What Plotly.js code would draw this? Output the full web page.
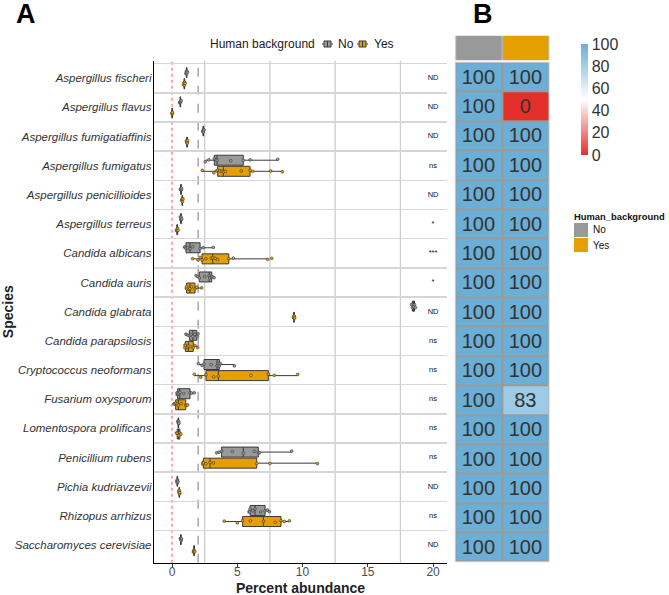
<!DOCTYPE html>
<html>
<head>
<meta charset="utf-8">
<script src="https://cdn.plot.ly/plotly-3.0.1.min.js"></script>
<style>
  html, body { margin: 0; padding: 0; background: #ffffff; }
  #chart { width: 669px; height: 595px; }
</style>
</head>
<body>
<div id="chart"></div>
<script>
// Species shown on both panels, top to bottom
const species = [
  'Aspergillus fischeri', 'Aspergillus flavus', 'Aspergillus fumigatiaffinis',
  'Aspergillus fumigatus', 'Aspergillus penicillioides', 'Aspergillus terreus',
  'Candida albicans', 'Candida auris', 'Candida glabrata', 'Candida parapsilosis',
  'Cryptococcus neoformans', 'Fusarium oxysporum', 'Lomentospora prolificans',
  'Penicillium rubens', 'Pichia kudriavzevii', 'Rhizopus arrhizus',
  'Saccharomyces cerevisiae'
];

const groups = ['No', 'Yes'];

// Percent abundance per sample, human background = No
const abundanceNo = [
  [1.06, 1.10, 1.12, 1.14, 1.18],
  [0.58, 0.62, 0.64, 0.66, 0.70],
  [2.36, 2.38, 2.40, 2.42, 2.45],
  [2.55, 2.82, 3.24, 3.38, 3.45, 4.50, 5.46, 5.98, 8.10],
  [0.64, 0.67, 0.69, 0.71, 0.73],
  [0.64, 0.67, 0.69, 0.71, 0.74],
  [0.97, 1.00, 1.07, 1.20, 1.38, 1.60, 2.15, 2.40, 3.17],
  [1.84, 1.98, 2.09, 2.50, 2.85, 2.90, 3.04, 3.10, 3.22],
  [18.35, 18.42, 18.50, 18.58, 18.65],
  [1.07, 1.20, 1.33, 1.45, 1.60, 1.75, 1.89, 1.95, 2.00],
  [2.02, 2.30, 2.45, 3.00, 3.45, 3.55, 3.63, 3.70, 4.78],
  [0.38, 0.40, 0.43, 0.50, 0.60, 0.90, 1.38, 1.50, 1.71],
  [0.45, 0.47, 0.49, 0.51, 0.53],
  [3.42, 3.60, 3.80, 4.62, 5.46, 6.30, 6.61, 6.70, 9.17],
  [0.37, 0.39, 0.41, 0.43, 0.45],
  [5.90, 5.95, 5.98, 6.20, 6.36, 6.80, 7.13, 7.30, 7.46],
  [0.64, 0.66, 0.68, 0.70, 0.72]
];

// Percent abundance per sample, human background = Yes
const abundanceYes = [
  [0.88, 0.92, 0.95, 0.97, 1.00],
  [0.00, 0.01, 0.02, 0.03],
  [1.10, 1.13, 1.15, 1.17, 1.20],
  [2.32, 3.20, 3.40, 3.50, 3.65, 3.80, 3.93, 4.10, 5.30, 5.98, 6.18, 7.56, 8.45],
  [0.74, 0.77, 0.79, 0.81, 0.84],
  [0.34, 0.37, 0.40, 0.43, 0.46],
  [1.58, 2.00, 2.15, 2.30, 2.60, 3.00, 3.12, 3.30, 3.50, 4.35, 4.70, 7.33, 7.64],
  [1.10, 1.12, 1.12, 1.30, 1.38, 1.50, 1.76, 1.90, 2.27],
  [9.30, 9.33, 9.35, 9.37, 9.40],
  [0.98, 1.00, 1.02, 1.15, 1.25, 1.40, 1.63, 1.75, 1.97],
  [1.71, 2.20, 2.60, 3.20, 3.55, 6.05, 7.38, 7.84, 9.63],
  [0.15, 0.20, 0.28, 0.40, 0.49, 0.70, 1.05, 1.10, 1.20],
  [0.34, 0.40, 0.50, 0.60, 0.67],
  [2.35, 2.38, 2.40, 2.60, 2.91, 3.17, 6.49, 7.50, 11.14],
  [0.52, 0.54, 0.56, 0.58, 0.60],
  [4.00, 5.00, 5.41, 6.00, 7.00, 7.90, 8.35, 8.60, 8.99],
  [1.64, 1.67, 1.69, 1.71, 1.74]
];

// Test result per species
const significance = ['ND', 'ND', 'ND', 'ns', 'ND', '*', '***', '*', 'ND',
  'ns', 'ns', 'ns', 'ns', 'ns', 'ND', 'ns', 'ND'];
const significanceX = 20;

// Detection rate (%) per species and group
const detectedNo = [100, 100, 100, 100, 100, 100, 100, 100, 100, 100, 100, 100, 100, 100, 100, 100, 100];
const detectedYes = [100, 0, 100, 100, 100, 100, 100, 100, 100, 100, 100, 83, 100, 100, 100, 100, 100];

// Reference lines on the abundance axis
const refLineRed = 0;
const refLineGrey = 2;

// Vertical grid positions of the abundance axis
const gridX = [2.5, 7.5, 12.5, 17.5];

const colNo = '#999999';
const colYes = '#E69F00';
const FONT = 'Liberation Sans, Arial, sans-serif';

function flatten(samples) {
  const x = [], y = [];
  samples.forEach((vals, i) => vals.forEach(v => { x.push(v); y.push(species[i]); }));
  return { x, y };
}

function boxTrace(name, samples, color) {
  const d = flatten(samples);
  return {
    type: 'box', orientation: 'h', name: name, showlegend: false,
    x: d.x, y: d.y,
    xaxis: 'x', yaxis: 'y',
    fillcolor: color,
    line: { color: '#3a3a3a', width: 1 },
    whiskerwidth: 0,
    quartilemethod: 'inclusive',
    boxpoints: 'all', jitter: 0.35, pointpos: 0,
    marker: { size: 2.8, color: color, line: { color: '#3a3a3a', width: 0.6 } },
    hoverinfo: 'x+name'
  };
}

const traces = [
  boxTrace('No', abundanceNo, colNo),
  boxTrace('Yes', abundanceYes, colYes),
  {
    type: 'scatter', mode: 'text', showlegend: false,
    x: species.map(() => significanceX), y: species,
    text: significance,
    textfont: { family: FONT, size: 7.5, color: '#111111' },
    xaxis: 'x', yaxis: 'y', hoverinfo: 'skip'
  },
  {
    type: 'heatmap', showlegend: false,
    x: groups, y: species,
    z: species.map((s, i) => [detectedNo[i], detectedYes[i]]),
    zmin: 0, zmax: 100,
    colorscale: [[0, '#E3302B'], [0.5, '#FFFFFF'], [1, '#6BAED6']],
    xgap: 2, ygap: 2,
    texttemplate: '%{z}',
    textfont: { family: FONT, size: 20, color: '#333333' },
    xaxis: 'x2', yaxis: 'y2', hoverinfo: 'skip',
    colorbar: {
      x: 0.8685, xanchor: 'left', xpad: 0, ypad: 0,
      y: 0.8328, yanchor: 'middle',
      thickness: 7, thicknessmode: 'pixels',
      len: 111, lenmode: 'pixels',
      outlinewidth: 0, ticks: '',
      tickvals: [0, 20, 40, 60, 80, 100],
      tickfont: { family: FONT, size: 16, color: '#333333' }
    }
  },
  {
    type: 'heatmap', showlegend: false, showscale: false,
    x: groups, y: ['Human_background'],
    z: [[0, 1]], zmin: 0, zmax: 1,
    colorscale: [[0, colNo], [1, colYes]],
    xgap: 2, ygap: 0,
    xaxis: 'x3', yaxis: 'y3', hoverinfo: 'skip'
  }
];

// Small box-shaped key for the top legend (paper pixels)
function keyShapes(x0, color) {
  const W = 669, H = 595, y0 = 41, y1 = 47, ym = 44;
  return [
    { type: 'line', xref: 'paper', yref: 'paper', x0: (x0 - 2) / W, x1: (x0 + 9) / W,
      y0: 1 - ym / H, y1: 1 - ym / H, line: { color: '#3a3a3a', width: 1 } },
    { type: 'rect', xref: 'paper', yref: 'paper', x0: x0 / W, x1: (x0 + 7) / W,
      y0: 1 - y1 / H, y1: 1 - y0 / H, fillcolor: color, line: { color: '#3a3a3a', width: 1 } },
    { type: 'line', xref: 'paper', yref: 'paper', x0: (x0 + 3.5) / W, x1: (x0 + 3.5) / W,
      y0: 1 - y1 / H, y1: 1 - y0 / H, line: { color: '#3a3a3a', width: 1 } }
  ];
}

// Vertical grid lines between the labelled ticks
const gridShapes = gridX.map(v => ({
  type: 'line', xref: 'x', yref: 'y domain', x0: v, x1: v, y0: 0, y1: 1,
  line: { color: '#cdcdcd', width: 1.3 }, layer: 'below'
}));

const layout = {
  width: 669, height: 595,
  margin: { l: 0, r: 0, t: 0, b: 0 },
  paper_bgcolor: '#ffffff', plot_bgcolor: '#ffffff',
  font: { family: FONT, color: '#333333' },
  boxmode: 'group', boxgap: 0.24, boxgroupgap: 0.1,
  showlegend: false,
  xaxis: {
    domain: [0.2302, 0.6682], range: [-1.38, 21.07],
    showgrid: false, zeroline: false,
    showline: true, linecolor: '#000000', linewidth: 1.2,
    ticks: 'outside', ticklen: 3, tickcolor: '#333333',
    tickmode: 'linear', tick0: 0, dtick: 5,
    tickfont: { size: 12, color: '#4d4d4d' },
    ticklabelstandoff: -5,
    fixedrange: true
  },
  yaxis: {
    domain: [0.0543, 0.898],
    type: 'category', categoryorder: 'array', categoryarray: species,
    range: [16.6, -0.6],
    tickson: 'boundaries', ticks: '',
    showgrid: true, gridcolor: '#d6d6d6', gridwidth: 1.5,
    showline: true, linecolor: '#000000', linewidth: 1.2,
    zeroline: false,
    tickfont: { size: 11.5, color: '#333333', style: 'italic' },
    ticklabelstandoff: -1,
    title: { text: 'Species', font: { size: 14, color: '#222222', weight: 'bold' }, standoff: 4 },
    fixedrange: true
  },
  xaxis2: {
    domain: [0.6806, 0.8206], anchor: 'y2',
    showticklabels: false, showgrid: false, zeroline: false, showline: false, ticks: ''
  },
  yaxis2: {
    domain: [0.056, 0.8953], anchor: 'x2',
    type: 'category', categoryorder: 'array', categoryarray: species,
    autorange: 'reversed',
    showticklabels: false, showgrid: false, zeroline: false, showline: false, ticks: ''
  },
  xaxis3: {
    domain: [0.6806, 0.8206], anchor: 'y3',
    showticklabels: false, showgrid: false, zeroline: false, showline: false, ticks: ''
  },
  yaxis3: {
    domain: [0.8992, 0.9395], anchor: 'x3',
    showticklabels: false, showgrid: false, zeroline: false, showline: false, ticks: ''
  },
  shapes: gridShapes.concat([
    { type: 'line', xref: 'x', yref: 'y domain', x0: refLineRed, x1: refLineRed, y0: 0, y1: 1,
      line: { color: '#ff7070', width: 1.2, dash: 'dot' }, layer: 'below' },
    { type: 'line', xref: 'x', yref: 'y domain', x0: refLineGrey, x1: refLineGrey, y0: 0, y1: 1,
      line: { color: '#7a7a7a', width: 1, dash: 'dash' }, layer: 'below' },
    { type: 'rect', xref: 'x2 domain', yref: 'y2 domain', x0: 0, x1: 1, y0: 0, y1: 1,
      fillcolor: '#9a9a9a', line: { width: 1, color: '#c8c8c8' }, layer: 'below' },
    { type: 'rect', xref: 'x3 domain', yref: 'y3 domain', x0: 0, x1: 1, y0: 0, y1: 1,
      fillcolor: '#b0b0b0', line: { width: 1, color: '#d0d0d0' }, layer: 'below' },
    // swatches of the annotation-row legend
    { type: 'rect', xref: 'paper', yref: 'paper', x0: 574 / 669, x1: 588 / 669,
      y0: 1 - 237 / 595, y1: 1 - 223 / 595, fillcolor: colNo, line: { width: 0 } },
    { type: 'rect', xref: 'paper', yref: 'paper', x0: 574 / 669, x1: 588 / 669,
      y0: 1 - 252 / 595, y1: 1 - 238 / 595, fillcolor: colYes, line: { width: 0 } }
  ], keyShapes(324, colNo), keyShapes(359, colYes)),
  annotations: [
    { text: '<b>A</b>', xref: 'paper', yref: 'paper', x: 26 / 669, y: 1 - 14 / 595,
      showarrow: false, font: { size: 27, color: '#000000' }, xanchor: 'center', yanchor: 'middle' },
    { text: '<b>B</b>', xref: 'paper', yref: 'paper', x: 483 / 669, y: 1 - 14 / 595,
      showarrow: false, font: { size: 27, color: '#000000' }, xanchor: 'center', yanchor: 'middle' },
    { text: '<b>Percent abundance</b>', xref: 'paper', yref: 'paper', x: 300 / 669, y: 1 - 588 / 595,
      showarrow: false, font: { size: 14, color: '#222222' }, xanchor: 'center', yanchor: 'middle' },
    { text: 'Human background', xref: 'paper', yref: 'paper', x: 208 / 669, y: 1 - 44 / 595,
      showarrow: false, font: { size: 12, color: '#1a1a1a' }, xanchor: 'left', yanchor: 'middle' },
    { text: 'No', xref: 'paper', yref: 'paper', x: 336 / 669, y: 1 - 44 / 595,
      showarrow: false, font: { size: 12, color: '#1a1a1a' }, xanchor: 'left', yanchor: 'middle' },
    { text: 'Yes', xref: 'paper', yref: 'paper', x: 372 / 669, y: 1 - 44 / 595,
      showarrow: false, font: { size: 12, color: '#1a1a1a' }, xanchor: 'left', yanchor: 'middle' },
    { text: '<b>Human_background</b>', xref: 'paper', yref: 'paper', x: 572 / 669, y: 1 - 216 / 595,
      showarrow: false, font: { size: 9.4, color: '#111111' }, xanchor: 'left', yanchor: 'middle' },
    { text: 'No', xref: 'paper', yref: 'paper', x: 591 / 669, y: 1 - 230 / 595,
      showarrow: false, font: { size: 10, color: '#111111' }, xanchor: 'left', yanchor: 'middle' },
    { text: 'Yes', xref: 'paper', yref: 'paper', x: 591 / 669, y: 1 - 245 / 595,
      showarrow: false, font: { size: 10, color: '#111111' }, xanchor: 'left', yanchor: 'middle' }
  ]
};

Plotly.newPlot('chart', traces, layout, { displayModeBar: false, staticPlot: true });
</script>
</body>
</html>
